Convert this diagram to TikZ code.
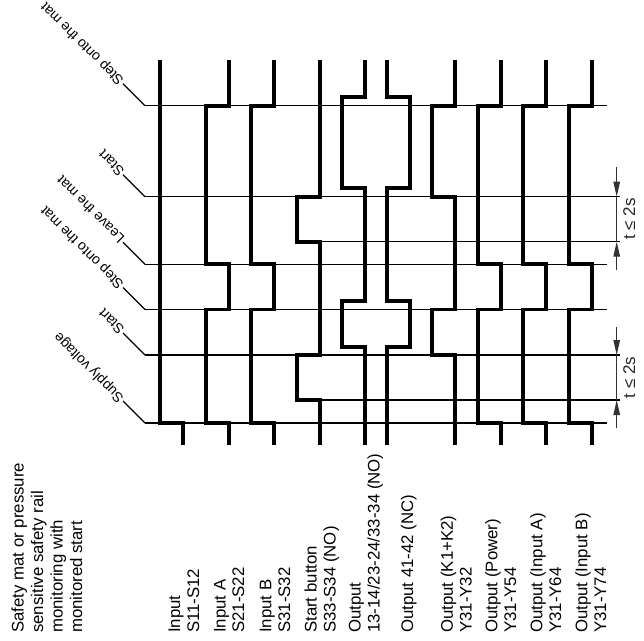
\documentclass[tikz,border=0pt]{standalone}
\usepackage{fontspec}
\setmainfont{Liberation Sans}
\usetikzlibrary{arrows.meta}
\begin{document}
\begin{tikzpicture}[x=1pt,y=-1pt,
  trace/.style={line width=3.8pt, line join=miter, line cap=butt},
  gridline/.style={line width=1.5pt},
  leader/.style={line width=1.3pt},
  evlabel/.style={rotate=135, anchor=west, inner sep=1.5pt, font=\fontsize{14}{16}\selectfont},
  siglabel/.style={rotate=90, anchor=base west, inner sep=0pt, font=\fontsize{16.8}{19.4}\selectfont},
  dimline/.style={line width=1.1pt, draw=black!80},
  dimarrow/.style={dimline, -{Triangle[length=15pt,width=6.5pt]}},
  dimtext/.style={rotate=90, anchor=base, inner sep=0pt, text=black!85, font=\fontsize{17}{20}\selectfont},
]
\useasboundingbox (0,0) rectangle (644,640);

% event lines with leaders and labels
\foreach \y/\txt/\xe/\n in {105.7/Step onto the mat/606.7/e1, 196.7/Start/620/e2, 264.3/Leave the mat/606.7/e3, 309.5/Step onto the mat/606.7/e4, 355/Start/620/e5, 423/Supply voltage/606.7/e6}{
  \coordinate (\n-l) at (145,\y);
  \coordinate (\n-r) at (\xe,\y);
  \coordinate (\n-k) at (123,{\y-22});
  \draw[gridline] (\n-l) -- (\n-r);
  \draw[leader] (\n-l) -- (\n-k);
  \node[evlabel] (\n-t) at (\n-k) {\txt};
}
% start-button release lines
\coordinate (r1-l) at (297,241.7); \coordinate (r1-r) at (620,241.7);
\coordinate (r2-l) at (297,400);   \coordinate (r2-r) at (620,400);
\draw[gridline] (r1-l) -- (r1-r);
\draw[gridline] (r2-l) -- (r2-r);

% signal traces
\draw[trace] (160,60) -- (160,423) -| (183,445);
\foreach \h in {206,251.3,478,523.3,569}{
  \draw[trace] ({\h+23},60) |- (\h,105.7) |- ({\h+23},264.3) |- (\h,309.5) |- ({\h+23},423) -- ({\h+23},445);
}
\def\h{297.3}
\draw[trace] ({\h+23},60) |- (\h,196.7) |- ({\h+23},241.7) |- (\h,355) |- ({\h+23},400) -- ({\h+23},445);
\def\h{342}
\draw[trace] ({\h+23},60) |- (\h,97.3) |- ({\h+23},188.3) |- (\h,301.3) |- ({\h+23},346.7) -- ({\h+23},445);
\def\h{387}
\draw[trace] (\h,60) |- ({\h+23},97.3) |- (\h,188.3) |- ({\h+23},301.3) |- (\h,346.7) -- (\h,445);
\def\h{432.3}
\draw[trace] ({\h+23},60) |- (\h,105.7) |- ({\h+23},196.7) |- (\h,309.5) |- ({\h+23},355) -- ({\h+23},445);

% dimension t <= 2s
\coordinate (d1a) at (616.7,167);   \coordinate (d1b) at (616.7,196.7);
\coordinate (d1c) at (616.7,241.7); \coordinate (d1d) at (616.7,270);
\draw[dimarrow] (d1a) -- (d1b);
\draw[dimarrow] (d1d) -- (d1c);
\draw[dimline] (d1b) -- (d1c);
\node[dimtext] (d1t) at (635,219.2) {t ≤ 2s};
\coordinate (d2a) at (616.7,326.7); \coordinate (d2b) at (616.7,355);
\coordinate (d2c) at (616.7,400);   \coordinate (d2d) at (616.7,428.3);
\draw[dimarrow] (d2a) -- (d2b);
\draw[dimarrow] (d2d) -- (d2c);
\draw[dimline] (d2b) -- (d2c);
\node[dimtext] (d2t) at (635,377.5) {t ≤ 2s};

% title
\node[siglabel] (ti1) at (23.7,633) {Safety mat or pressure};
\node[siglabel] (ti2) at (43.1,633) {sensitive safety rail};
\node[siglabel] (ti3) at (62.5,633) {monitoring with};
\node[siglabel] (ti4) at (82,633) {monitored start};

% signal labels
\node[siglabel] (s1a) at (180,633) {Input};
\node[siglabel] (s1b) at (199.2,633) {S11-S12};
\node[siglabel] (s2a) at (225.5,633) {Input A};
\node[siglabel] (s2b) at (244.2,633) {S21-S22};
\node[siglabel] (s3a) at (271.3,633) {Input B};
\node[siglabel] (s3b) at (290.2,633) {S31-S32};
\node[siglabel] (s4a) at (316.7,633) {Start button};
\node[siglabel] (s4b) at (335.6,633) {S33-S34 (NO)};
\node[siglabel] (s5a) at (360.5,633) {Output};
\node[siglabel] (s5b) at (379.6,633) {13-14/23-24/33-34 (NO)};
\node[siglabel] (s6a) at (413,633) {Output 41-42 (NC)};
\node[siglabel] (s7a) at (452.8,633) {Output (K1+K2)};
\node[siglabel] (s7b) at (471.7,633) {Y31-Y32};
\node[siglabel] (s8a) at (497.3,633) {Output (Power)};
\node[siglabel] (s8b) at (516,633) {Y31-Y54};
\node[siglabel] (s9a) at (542.3,633) {Output (Input A)};
\node[siglabel] (s9b) at (561,633) {Y31-Y64};
\node[siglabel] (s10a) at (587.3,633) {Output (Input B)};
\node[siglabel] (s10b) at (606,633) {Y31-Y74};
\end{tikzpicture}
\end{document}
